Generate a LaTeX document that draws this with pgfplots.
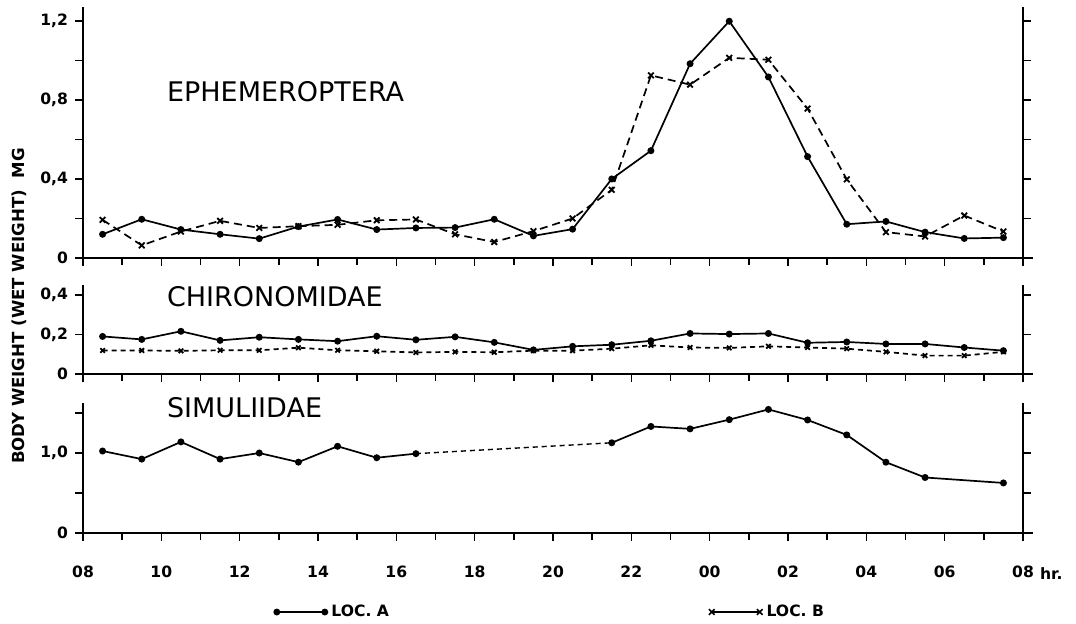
\documentclass[border=0pt]{standalone}
\usepackage{fontspec}
\setmainfont{DejaVu Sans}
\usepackage{pgfplots}
\pgfplotsset{compat=1.18}

\pgfplotsset{
  panel/.style={
    scale only axis, width=470pt,
    xmin=8, xmax=32,
    axis x line=bottom, axis y line=box,
    axis line style={-, line width=0.7pt},
    x axis line style={shorten >=-5pt},
    tick align=outside,
    xtick={8,10,...,32}, minor x tick num=1,
    major tick length=4pt, minor tick length=3.5pt,
    every tick/.style={black, line width=0.7pt},
    yticklabel pos=left,
    xticklabels={},
    tick label style={font=\bfseries\fontsize{7.8}{9}\selectfont},
    xticklabel style={yshift=-9pt},
    clip=false,
    anchor=south west,
  },
  locA/.style={black, line width=0.85pt, mark=*, mark size=1.3pt},
  locB/.style={black, line width=0.85pt, dash pattern=on 4pt off 2.5pt,
    mark=x, mark size=2pt, mark options={solid, line width=0.9pt}},
}

\begin{document}
\begin{tikzpicture}
\path[use as bounding box] (0,0) rectangle (538pt,-311.5pt);

% Ephemeroptera
\begin{axis}[panel, at={(41.5pt,-129pt)}, height=125.5pt,
  ymin=0, ymax=1.27,
  ytick={0,0.2,0.4,0.6,0.8,1.0,1.2},
  yticklabels={0,{},{0,4},{},{0,8},{},{1,2}}]
\addplot[locA] coordinates {
 (8.5,0.120) (9.5,0.196) (10.5,0.144) (11.5,0.120) (12.5,0.098) (13.5,0.159)
 (14.5,0.195) (15.5,0.144) (16.5,0.152) (17.5,0.154) (18.5,0.196) (19.5,0.112)
 (20.5,0.146) (21.5,0.400) (22.5,0.543) (23.5,0.983) (24.5,1.198) (25.5,0.916)
 (26.5,0.513) (27.5,0.171) (28.5,0.185) (29.5,0.131) (30.5,0.099) (31.5,0.103)};
\addplot[locB] coordinates {
 (8.5,0.193) (9.5,0.064) (10.5,0.134) (11.5,0.188) (12.5,0.152) (13.5,0.161)
 (14.5,0.168) (15.5,0.191) (16.5,0.195) (17.5,0.120) (18.5,0.081) (19.5,0.136)
 (20.5,0.200) (21.5,0.345) (22.5,0.924) (23.5,0.877) (24.5,1.013) (25.5,1.003)
 (26.5,0.756) (27.5,0.398) (28.5,0.131) (29.5,0.109) (30.5,0.215) (31.5,0.134)};
\end{axis}

% Chironomidae
\begin{axis}[panel, at={(41.5pt,-187pt)}, height=44.5pt,
  ymin=0, ymax=0.45,
  ytick={0,0.2,0.4},
  yticklabels={0,{0,2},{0,4}},
  locB/.append style={dash pattern=on 2.5pt off 2pt, mark size=1.6pt}]
\addplot[locA] coordinates {
 (8.5,0.190) (9.5,0.175) (10.5,0.216) (11.5,0.170) (12.5,0.186) (13.5,0.175)
 (14.5,0.166) (15.5,0.191) (16.5,0.173) (17.5,0.188) (18.5,0.160) (19.5,0.122)
 (20.5,0.140) (21.5,0.148) (22.5,0.168) (23.5,0.205) (24.5,0.202) (25.5,0.205)
 (26.5,0.158) (27.5,0.162) (28.5,0.152) (29.5,0.152) (30.5,0.134) (31.5,0.118)};
\addplot[locB] coordinates {
 (8.5,0.119) (9.5,0.119) (10.5,0.117) (11.5,0.120) (12.5,0.120) (13.5,0.133)
 (14.5,0.120) (15.5,0.115) (16.5,0.109) (17.5,0.112) (18.5,0.110) (19.5,0.118)
 (20.5,0.118) (21.5,0.128) (22.5,0.145) (23.5,0.134) (24.5,0.132) (25.5,0.140)
 (26.5,0.134) (27.5,0.128) (28.5,0.112) (29.5,0.093) (30.5,0.093) (31.5,0.112)};
\end{axis}

% Simuliidae
\begin{axis}[panel, at={(41.5pt,-266.5pt)}, height=65pt,
  ymin=0, ymax=1.625,
  ytick={0,0.5,1,1.5},
  yticklabels={0,{},{1,0},{}},
  xticklabels={08,10,12,14,16,18,20,22,00,02,04,06,08},
  legend columns=2,
  legend style={draw=none, fill=none, inner sep=0pt,
    at={(0.203,-0.608)}, anchor=west,
    font=\bfseries\fontsize{7.8}{9}\selectfont,
    /tikz/column 2/.style={column sep=158pt}},
  legend image code/.code={\draw[#1] plot coordinates {(0pt,0pt) (24pt,0pt)};}]
\addplot[locA, forget plot] coordinates {
 (8.5,1.025) (9.5,0.924) (10.5,1.139) (11.5,0.924) (12.5,1.000) (13.5,0.886)
 (14.5,1.084) (15.5,0.941) (16.5,0.992)};
\addplot[black, line width=0.7pt, dash pattern=on 2.5pt off 2pt, forget plot] coordinates {
 (16.5,0.992) (21.5,1.128)};
\addplot[locA, forget plot] coordinates {
 (21.5,1.128) (22.5,1.332) (23.5,1.302) (24.5,1.417) (25.5,1.545) (26.5,1.413)
 (27.5,1.226) (28.5,0.885) (29.5,0.694) (31.5,0.626)};
\addlegendimage{black, line width=0.8pt, mark=*, mark size=1.3pt}
\addlegendentry{LOC. A}
\addlegendimage{black, line width=0.8pt, mark=x, mark size=2pt}
\addlegendentry{LOC. B}
\end{axis}

\node[anchor=base west, font=\bfseries\fontsize{7.8}{9}\selectfont] at (516.5pt,-289.8pt) {hr.};
\node[anchor=west, font=\fontsize{13.5}{16}\selectfont] at (80pt,-46pt) {EPHEMEROPTERA};
\node[anchor=west, font=\fontsize{13.5}{16}\selectfont] at (80pt,-148.5pt) {CHIRONOMIDAE};
\node[anchor=west, font=\fontsize{13.5}{16}\selectfont] at (80pt,-204pt) {SIMULIIDAE};
\node[rotate=90, font=\bfseries\fontsize{8.3}{10}\selectfont] at (9.75pt,-153pt) {BODY WEIGHT (WET WEIGHT)\ \ MG};
\end{tikzpicture}
\end{document}
